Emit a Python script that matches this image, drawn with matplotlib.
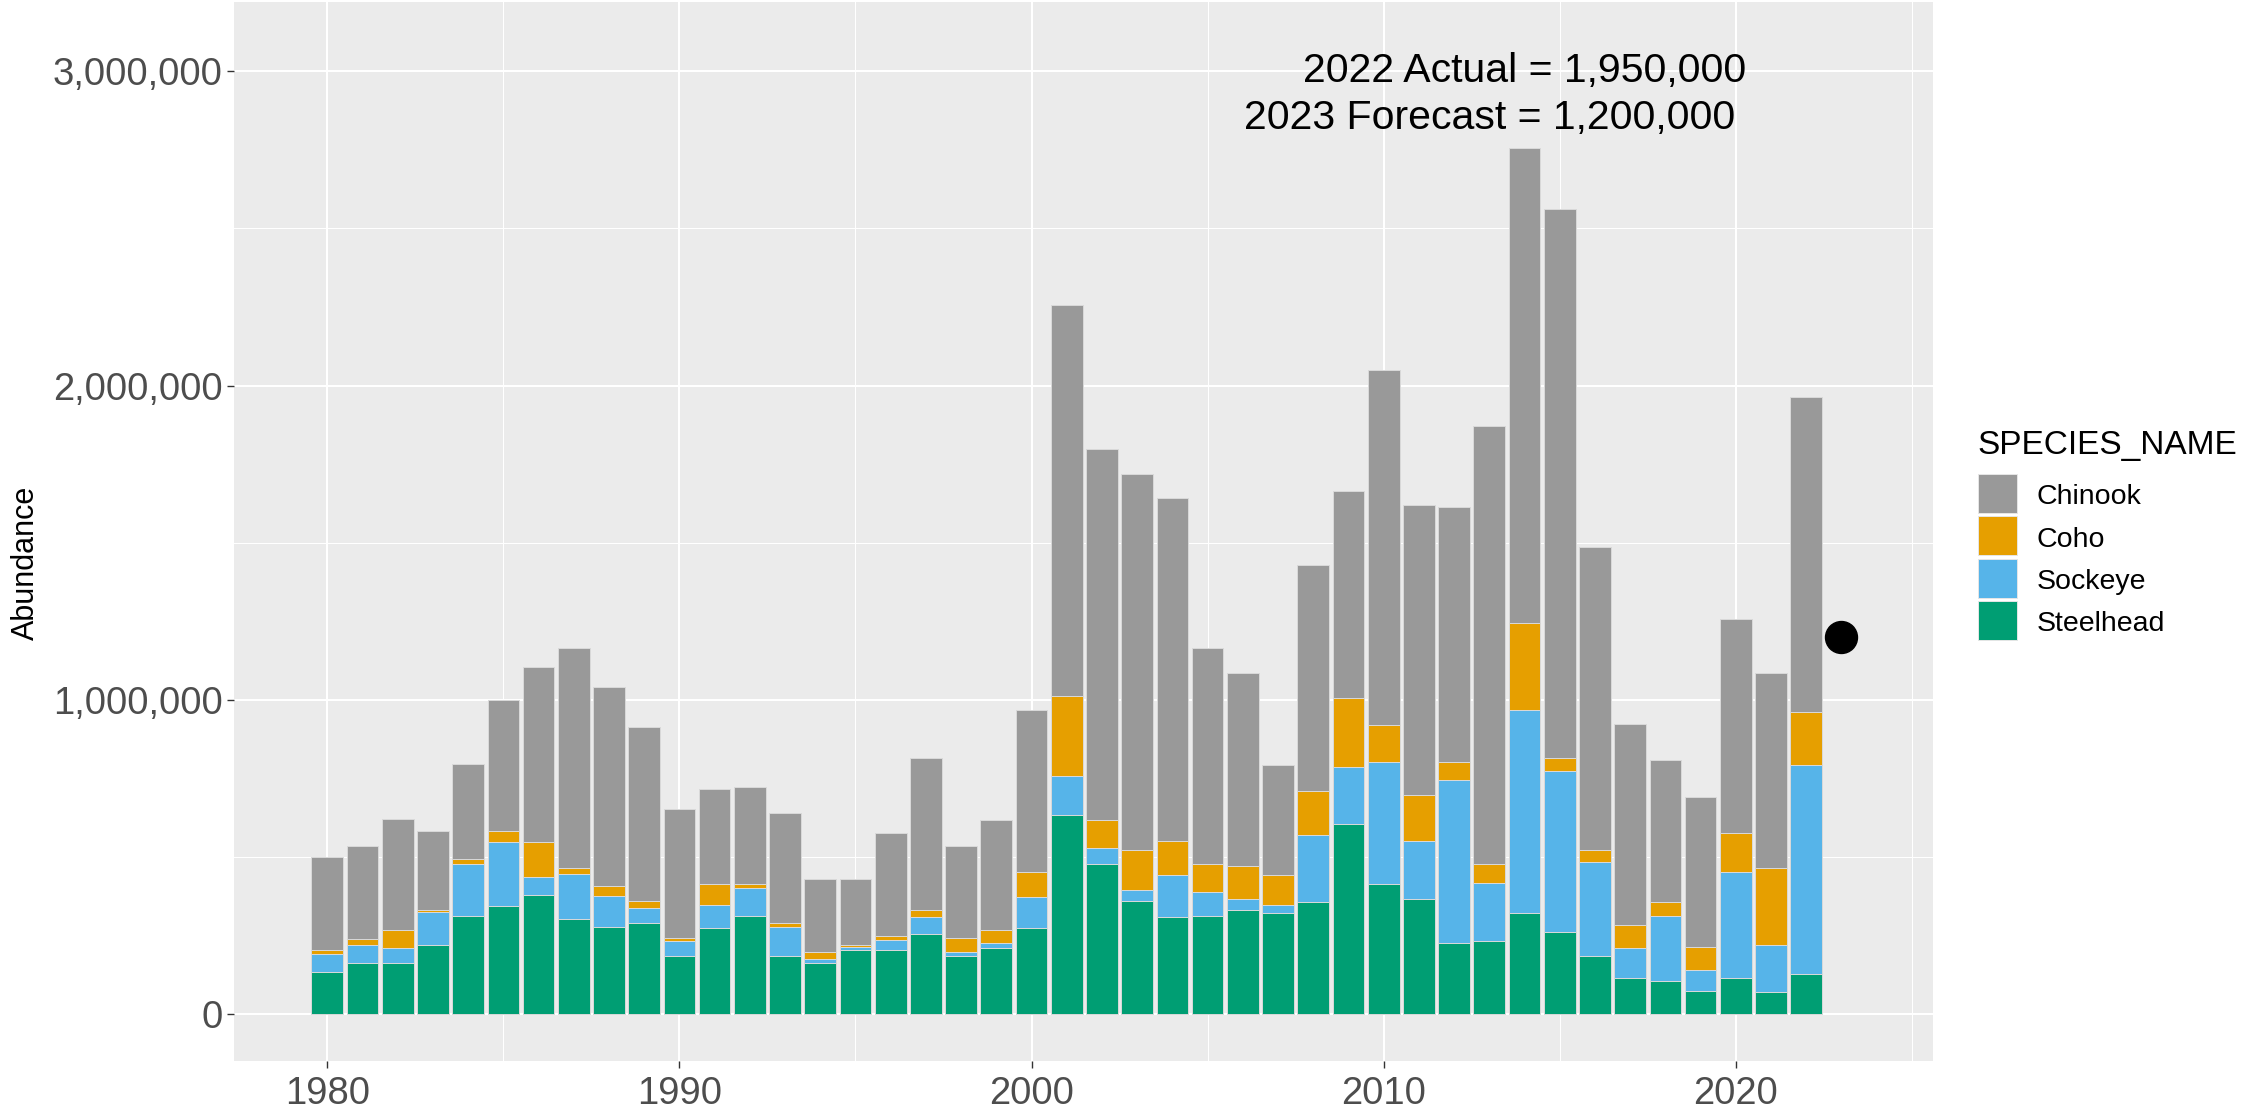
import numpy as np
import matplotlib
matplotlib.use("Agg")
import matplotlib.pyplot as plt
from matplotlib.patches import Rectangle
from matplotlib.ticker import MultipleLocator, FuncFormatter

# abundance by year, in thousands of fish
years = list(range(1980, 2023))
steelhead = [134, 163, 163, 221, 314, 344, 379, 304, 279, 291,
             186, 274, 314, 186, 163, 204, 204, 257, 186, 210,
             274, 635, 478, 361, 309, 314, 332, 321, 356, 606,
             414, 367, 228, 233, 321, 262, 186, 117, 105, 76,
             117, 70, 128]
sockeye = [59, 58, 47, 105, 163, 203, 58, 144, 99, 47,
           47, 75, 88, 93, 12, 12, 34, 52, 12, 16,
           98, 122, 52, 35, 133, 75, 35, 28, 214, 180,
           389, 186, 517, 186, 646, 513, 298, 93, 209, 64,
           337, 151, 665]
coho = [11, 18, 58, 5, 18, 36, 110, 18, 29, 23,
        11, 65, 12, 12, 23, 5, 12, 23, 46, 42,
        82, 257, 87, 128, 111, 88, 105, 94, 141, 221,
        118, 146, 58, 58, 278, 40, 40, 76, 42, 76,
        123, 245, 168]
chinook = [296, 296, 355, 252, 303, 418, 559, 698, 635, 553,
           408, 302, 308, 349, 233, 210, 327, 484, 291, 349,
           513, 1241, 1182, 1195, 1089, 688, 613, 350, 717, 659,
           1130, 920, 811, 1393, 1510, 1748, 962, 639, 454, 477,
           681, 619, 1002]

species = ["Chinook", "Coho", "Sockeye", "Steelhead"]
colors = ["#999999", "#E69F00", "#56B4E9", "#009E73"]

forecast_year = 2023
forecast_value = 1200000
label_actual = "2022 Actual = 1,950,000"
label_forecast = "2023 Forecast = 1,200,000"

plt.rcParams['font.family'] = ['Liberation Sans', 'DejaVu Sans']

W, H = 2254, 1112
fig = plt.figure(figsize=(W / 100, H / 100), dpi=100)
ax = fig.add_axes([0.1038, 0.0459, 0.7538, 0.9523])
ax.set_facecolor('#EBEBEB')

# stack from the bottom: Steelhead, Sockeye, Coho, Chinook
stack = [steelhead, sockeye, coho, chinook]
bottom = np.zeros(len(years))
for vals, col in zip(stack, colors[::-1]):
    v = np.array(vals) * 1000
    ax.bar(years, v, bottom=bottom, width=0.9, color=col,
           edgecolor='#d9d9d9', linewidth=0.7, zorder=3)
    bottom += v

ax.plot([forecast_year], [forecast_value], 'o', color='black', markersize=23, zorder=4)

ax.text(2014, 3.0e6, label_actual, ha='center', va='center', fontsize=29.5, color='black')
ax.text(2013, 2.85e6, label_forecast, ha='center', va='center', fontsize=29.5, color='black')

ax.set_xlim(1977.35, 2025.6)
ax.set_ylim(-0.148e6, 3.22e6)

ax.xaxis.set_major_locator(MultipleLocator(10))
ax.xaxis.set_minor_locator(MultipleLocator(5))
ax.yaxis.set_major_locator(MultipleLocator(1e6))
ax.yaxis.set_minor_locator(MultipleLocator(5e5))
ax.yaxis.set_major_formatter(FuncFormatter(lambda x, p: f"{x:,.0f}"))

ax.set_axisbelow(True)
ax.grid(which='major', color='white', linewidth=1.5, zorder=0)
ax.grid(which='minor', color='white', linewidth=0.75, zorder=0)
for s in ax.spines.values():
    s.set_visible(False)

ax.tick_params(which='major', length=5, width=1, color='#333333',
               labelsize=27.5, labelcolor='#4D4D4D', pad=3)
ax.tick_params(axis='x', pad=6)
ax.tick_params(which='minor', length=0)

ax.set_ylabel("Abundance", fontsize=22, color='black')
ax.yaxis.set_label_coords(-0.1135, 0.47)

# legend, placed in figure pixels (y measured from the top)
def fx(px):
    return px / W

def fy(py):
    return 1 - py / H

fig.text(fx(1977), fy(454), "SPECIES_NAME", fontsize=24, color='black',
         ha='left', va='baseline')
key_top = 474
key_size = 39
key_step = 42.3
for i, (name, col) in enumerate(zip(species, colors)):
    top = key_top + i * key_step
    fig.add_artist(Rectangle((fx(1978), fy(top + key_size)), key_size / W, key_size / H,
                             transform=fig.transFigure, facecolor=col,
                             edgecolor='#e6e6e6', linewidth=0.7))
    fig.text(fx(2037), fy(top + key_size / 2 + 11), name, fontsize=20.5,
             color='black', ha='left', va='baseline')

fig.savefig('out.png', dpi=100)
